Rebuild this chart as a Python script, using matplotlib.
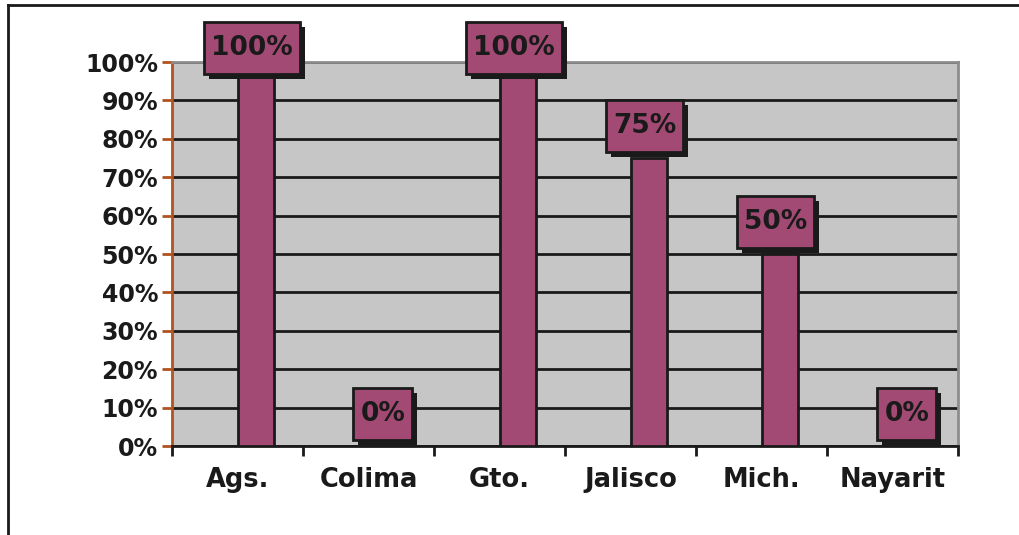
import numpy as np
import matplotlib.pyplot as plt
from matplotlib import transforms as mtransforms
from matplotlib.patches import Rectangle
from matplotlib.lines import Line2D

# data
states = ['Ags.', 'Colima', 'Gto.', 'Jalisco', 'Mich.', 'Nayarit']
values = [1.00, 0.00, 1.00, 0.75, 0.50, 0.00]

bar_color = '#A34A74'
dark = '#1a1a1a'

plt.rcParams['font.family'] = ['DejaVu Sans']
plt.rcParams['font.weight'] = 'bold'

fig = plt.figure(figsize=(10.19, 5.35), dpi=100)
ax = fig.add_axes([172/1019, 1-446/535, (958-172)/1019, (446-62)/535])
ax.set_facecolor('#C6C6C6')

x = np.arange(len(states))
ax.bar(x, values, width=0.28, align='edge', color=bar_color,
       edgecolor=dark, linewidth=2, zorder=3)

ax.set_xlim(-0.5, len(states) - 0.5)
ax.set_ylim(0, 1)
yt = np.linspace(0, 1, 11)
ax.set_yticks(yt)
ax.set_yticklabels(['%d%%' % round(v*100) for v in yt], fontsize=17, fontweight='bold', color=dark)
ax.yaxis.grid(True, color=dark, linewidth=2, zorder=1)
ax.set_axisbelow(True)
ax.tick_params(axis='y', color='#B0531F', length=7, width=2, pad=3)

ax.set_xticks(x)
ax.set_xticklabels(states, fontsize=18.5, fontweight='bold', color=dark)
ax.tick_params(axis='x', which='major', length=0, pad=15)
ax.set_xticks(np.arange(len(states) + 1) - 0.5, minor=True)
ax.tick_params(axis='x', which='minor', length=7, width=2, color=dark)

ax.spines['left'].set_color('#B0531F')
ax.spines['left'].set_linewidth(2)
ax.spines['bottom'].set_color(dark)
ax.spines['bottom'].set_linewidth(2)
for s in ['top', 'right']:
    ax.spines[s].set_color('#8c8c8c')
    ax.spines[s].set_linewidth(2)

# data labels in boxes with a drop shadow
renderer = fig.canvas.get_renderer()
for xi, v in zip(x, values):
    off = 14 if v >= 1 else 32
    anchor = mtransforms.ScaledTranslation(xi + 0.14, v, ax.transData)
    tr = mtransforms.Affine2D().translate(-4, off) + anchor
    t = ax.text(0, 0, '%d%%' % round(v*100), transform=tr, ha='center', va='center',
                fontsize=19, fontweight='bold', color=dark, zorder=6, clip_on=False)
    w = t.get_window_extent(renderer).width + 14
    h = 52
    ax.add_patch(Rectangle((-w/2 + 5, -h/2 - 5), w, h, transform=tr, fc=dark,
                           ec='none', zorder=4, clip_on=False))
    ax.add_patch(Rectangle((-w/2, -h/2), w, h, transform=tr, fc=bar_color,
                           ec=dark, lw=2, zorder=5, clip_on=False))

# outer frame
fig.add_artist(Line2D([8/1019, 8/1019], [0, 1-5/535], color=dark, lw=2))
fig.add_artist(Line2D([8/1019, 1], [1-5/535, 1-5/535], color=dark, lw=2))

fig.savefig('out.png', dpi=100)
